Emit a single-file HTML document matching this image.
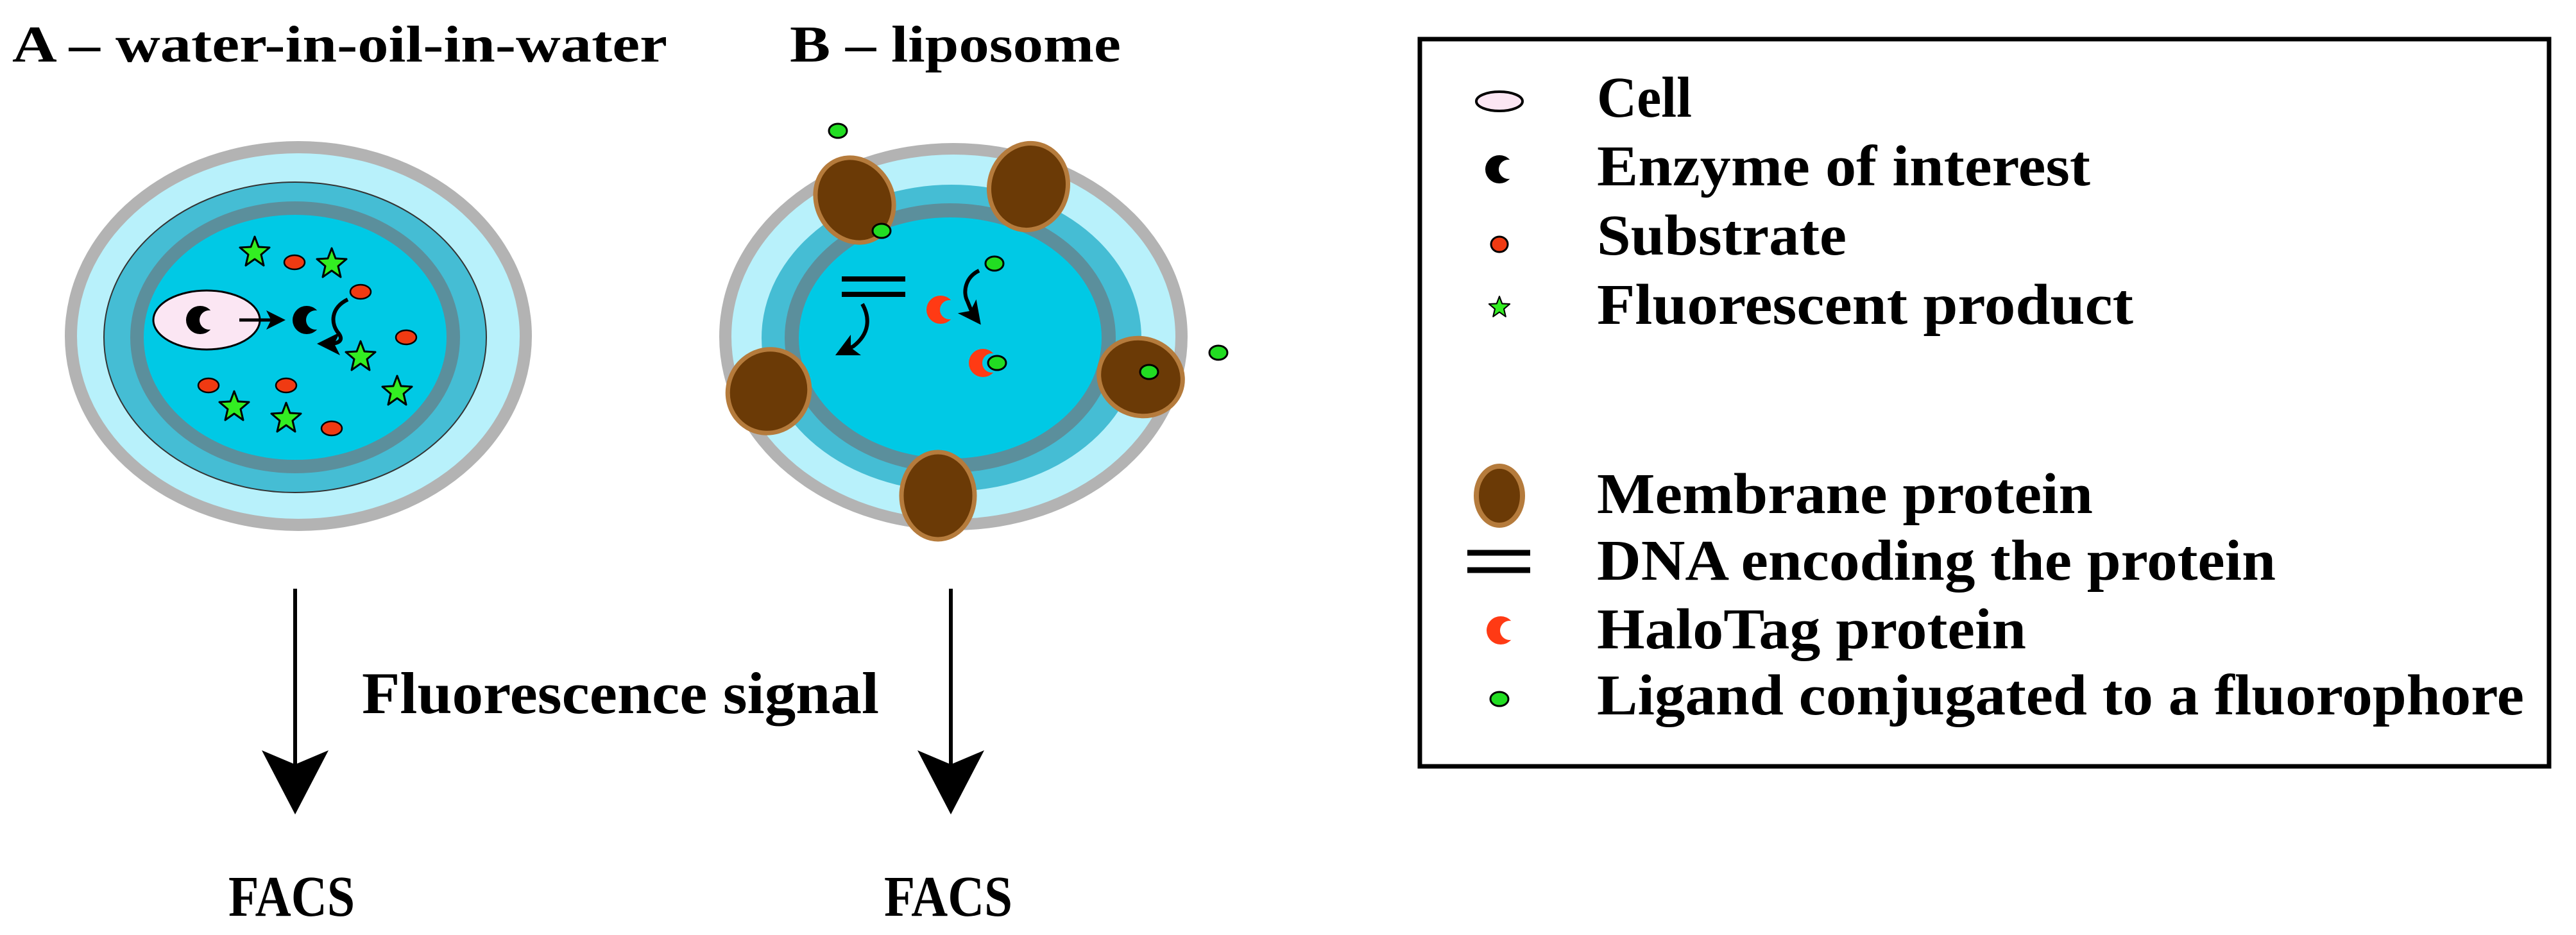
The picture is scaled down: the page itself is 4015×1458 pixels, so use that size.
<!DOCTYPE html>
<html><head><meta charset="utf-8"><style>html,body{margin:0;padding:0;background:#fff}svg{display:block}</style></head>
<body>
<svg width="4015" height="1458" viewBox="0 0 4015 1458" xmlns="http://www.w3.org/2000/svg" font-family="'Liberation Serif', serif" font-weight="bold">
<defs>
<mask id="mk" maskUnits="userSpaceOnUse" x="-100" y="-100" width="200" height="200">
<rect x="-100" y="-100" width="200" height="200" fill="#fff"/>
<circle cx="14" cy="0" r="15" fill="#000"/>
</mask>
<g id="cres"><circle cx="0" cy="0" r="22" mask="url(#mk)"/></g>
<marker id="ah" markerWidth="6" markerHeight="6" refX="3" refY="3" orient="auto" markerUnits="strokeWidth"><path d="M0,0 L6,3 L0,6 L1.5,3 Z" fill="#000"/></marker>
<g id="star"><path d="M0,-24 L6,-8 L23,-7 L10,4 L14,21 L0,11 L-14,21 L-10,4 L-23,-7 L-6,-8 Z" fill="#33ee22" stroke="#000" stroke-width="3" stroke-linejoin="round"/></g>
<g id="sub"><ellipse rx="16" ry="11" fill="#f03a12" stroke="#000" stroke-width="2.5"/></g>
<g id="lig"><ellipse rx="14" ry="11" fill="#22dd22" stroke="#000" stroke-width="3"/></g>
</defs>

<!-- Titles -->
<text x="19" y="96" font-size="80" textLength="1021" lengthAdjust="spacingAndGlyphs">A – water-in-oil-in-water</text>
<text x="1231" y="96" font-size="80" textLength="516" lengthAdjust="spacingAndGlyphs">B – liposome</text>

<!-- Droplet A -->
<ellipse cx="465" cy="524" rx="364" ry="304" fill="#b3b3b3"/>
<ellipse cx="465" cy="524" rx="345" ry="285" fill="#b8f1fb"/>
<ellipse cx="460" cy="526" rx="298" ry="242" fill="#45bdd4" stroke="#333" stroke-width="2"/>
<ellipse cx="460" cy="526" rx="257" ry="212" fill="#5b8f9c"/>
<ellipse cx="460" cy="526" rx="236" ry="191" fill="#00c9e5"/>
<ellipse cx="322" cy="499" rx="83" ry="46" fill="#fbe6f3" stroke="#000" stroke-width="3"/>
<use href="#cres" x="312" y="499"/>
<line x1="373" y1="499" x2="430" y2="499" stroke="#000" stroke-width="5" marker-end="url(#ah)"/>
<use href="#cres" x="478" y="499"/>
<path d="M542,467 C515,480 515,505 528,520 C535,530 530,536 512,536" fill="none" stroke="#000" stroke-width="6" marker-end="url(#ah)"/>
<use href="#star" x="397" y="393"/><use href="#star" x="517" y="411"/><use href="#star" x="562" y="556"/>
<use href="#star" x="619" y="610"/><use href="#star" x="365" y="634"/><use href="#star" x="446" y="652"/>
<use href="#sub" x="459" y="409"/><use href="#sub" x="562" y="455"/><use href="#sub" x="633" y="526"/>
<use href="#sub" x="325" y="601"/><use href="#sub" x="446" y="601"/><use href="#sub" x="517" y="668"/>

<!-- Droplet B -->
<ellipse cx="1486" cy="525" rx="365" ry="302" fill="#b3b3b3"/>
<ellipse cx="1486" cy="525" rx="346" ry="284" fill="#b8f1fb"/>
<ellipse cx="1483" cy="527" rx="296" ry="239" fill="#45bdd4"/>
<ellipse cx="1481" cy="527" rx="258" ry="210" fill="#5b8f9c"/>
<ellipse cx="1481" cy="527" rx="236" ry="188" fill="#00c9e5"/>
<g fill="#6b3a06" stroke="#b57b3c" stroke-width="7">
<ellipse cx="1332" cy="312" rx="59" ry="68" transform="rotate(-28 1332 312)"/>
<ellipse cx="1603" cy="291" rx="61" ry="68" transform="rotate(15 1603 291)"/>
<ellipse cx="1198" cy="610" rx="63" ry="66" transform="rotate(30 1198 610)"/>
<ellipse cx="1778" cy="588" rx="66" ry="60" transform="rotate(20 1778 588)"/>
<ellipse cx="1462" cy="773" rx="57" ry="68"/>
</g>
<line x1="1312" y1="435" x2="1411" y2="435" stroke="#000" stroke-width="8"/>
<line x1="1312" y1="459" x2="1411" y2="459" stroke="#000" stroke-width="8"/>
<path d="M1344,474 C1356,495 1356,520 1330,540 L1318,546" fill="none" stroke="#000" stroke-width="6" marker-end="url(#ah)"/>
<path d="M1526,422 C1505,432 1500,455 1508,470 C1512,480 1515,488 1518,492" fill="none" stroke="#000" stroke-width="6" marker-end="url(#ah)"/>
<g fill="#ff3a14"><use href="#cres" x="1466" y="483"/><use href="#cres" x="1532" y="566"/></g>
<use href="#lig" x="1306" y="204"/><use href="#lig" x="1374" y="360"/><use href="#lig" x="1550" y="411"/>
<use href="#lig" x="1554" y="566"/><use href="#lig" x="1791" y="580"/><use href="#lig" x="1899" y="550"/>

<!-- Arrows -->
<line x1="460" y1="918" x2="460" y2="1200" stroke="#000" stroke-width="6"/>
<path d="M408,1170 L460,1192 L512,1170 L460,1270 Z" fill="#000"/>
<line x1="1482" y1="918" x2="1482" y2="1200" stroke="#000" stroke-width="6"/>
<path d="M1430,1170 L1482,1192 L1534,1170 L1482,1270 Z" fill="#000"/>
<text x="564" y="1112" font-size="92" textLength="806" lengthAdjust="spacingAndGlyphs">Fluorescence signal</text>
<text x="356" y="1428" font-size="90" textLength="197" lengthAdjust="spacingAndGlyphs">FACS</text>
<text x="1378" y="1428" font-size="90" textLength="200" lengthAdjust="spacingAndGlyphs">FACS</text>

<!-- Legend -->
<rect x="2213" y="61" width="1760" height="1134" fill="none" stroke="#000" stroke-width="7"/>
<ellipse cx="2337" cy="158" rx="36" ry="15" fill="#fbe6f3" stroke="#000" stroke-width="4"/>
<use href="#cres" x="2337" y="264"/>
<ellipse cx="2337" cy="381" rx="13" ry="12" fill="#f03a12" stroke="#000" stroke-width="3"/>
<g transform="translate(2337 479) scale(0.7)"><use href="#star"/></g>
<ellipse cx="2337" cy="773" rx="36" ry="46" fill="#6b3a06" stroke="#b57b3c" stroke-width="8"/>
<line x1="2287" y1="862" x2="2385" y2="862" stroke="#000" stroke-width="9"/>
<line x1="2287" y1="889" x2="2385" y2="889" stroke="#000" stroke-width="9"/>
<g fill="#ff3a14"><use href="#cres" x="2339" y="983"/></g>
<use href="#lig" x="2337" y="1090"/>
<g font-size="90">
<text x="2489" y="182" textLength="148" lengthAdjust="spacingAndGlyphs">Cell</text>
<text x="2489" y="289" textLength="769" lengthAdjust="spacingAndGlyphs">Enzyme of interest</text>
<text x="2489" y="397" textLength="389" lengthAdjust="spacingAndGlyphs">Substrate</text>
<text x="2489" y="505" textLength="836" lengthAdjust="spacingAndGlyphs">Fluorescent product</text>
<text x="2489" y="800" textLength="773" lengthAdjust="spacingAndGlyphs">Membrane protein</text>
<text x="2489" y="904" textLength="1058" lengthAdjust="spacingAndGlyphs">DNA encoding the protein</text>
<text x="2489" y="1011" textLength="669" lengthAdjust="spacingAndGlyphs">HaloTag protein</text>
<text x="2489" y="1114" textLength="1445" lengthAdjust="spacingAndGlyphs">Ligand conjugated to a fluorophore</text>
</g>
</svg>
</body></html>
